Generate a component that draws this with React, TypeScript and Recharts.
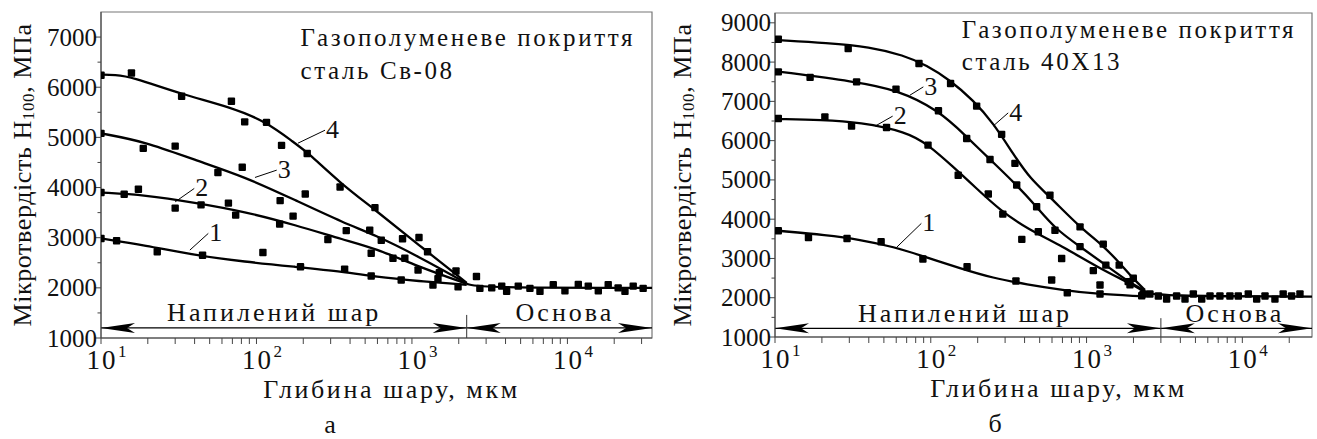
import React from 'react';
import {
  ComposedChart,
  Line,
  Scatter,
  XAxis,
  YAxis,
  ReferenceLine,
  ReferenceDot,
  ReferenceArea,
  Label,
} from 'recharts';

const FONT = '"Liberation Serif", "Times New Roman", serif';

type Pt = [number, number];

// ---------- panel а : steel Св-08 ----------
const leftCurve1 = [[10, 2985], [19.2, 2850], [40, 2650], [84, 2520], [177, 2420], [371, 2320], [578, 2220], [1095, 2135], [2250, 2060]] as Pt[];
const leftCurve2 = [[10, 3900], [19.2, 3850], [40, 3700], [84, 3520], [177, 3255], [371, 2950], [578, 2790], [1095, 2425], [2250, 2080]] as Pt[];
const leftCurve3 = [[10, 5080], [19.2, 4915], [40, 4550], [84, 4215], [177, 3750], [371, 3285], [578, 3055], [1095, 2630], [2250, 2090]] as Pt[];
const leftCurve4 = [[10, 6250], [12.3, 6250], [15.7, 6210], [33, 5860], [69, 5600], [116, 5310], [177, 4880], [212, 4710], [345, 4090], [578, 3560], [1095, 2865], [2250, 2100]] as Pt[];
const leftBase = [[2250, 2080], [2800, 2000], [35000, 2000]] as Pt[];

const leftPts1 = [[10, 2985], [12.6, 2940], [23, 2720], [45, 2650], [110, 2705], [192, 2420], [369, 2370], [547, 2235], [853, 2155], [1365, 2055], [1980, 2020]] as Pt[];
const leftPts2 = [[10, 3900], [14.1, 3865], [17.4, 3965], [30, 3590], [44, 3655], [66, 3690], [73.5, 3450], [141, 3270], [172, 3430], [288, 2965], [547, 2690], [755, 2590], [1095, 2355], [1470, 2180]] as Pt[];
const leftPts3 = [[10, 5080], [18.7, 4780], [30, 4825], [56.5, 4300], [81, 4405], [142, 3740], [206, 3870], [378, 3140], [535, 3150], [635, 2950], [900, 2590], [1500, 2300]] as Pt[];
const leftPts4 = [[10, 6240], [15.7, 6285], [33, 5820], [69, 5720], [84, 5310], [116, 5300], [145, 4840], [212, 4680], [345, 4010], [578, 3600], [870, 2980], [1110, 3005], [1260, 2720], [1920, 2335], [2600, 2225]] as Pt[];
const leftBasePts = [[2735, 1990], [3260, 2000], [3780, 2035], [4065, 1930], [4830, 2035], [5740, 1990], [6660, 1930], [8110, 2065], [9640, 1940], [11750, 2070], [13620, 2035], [15800, 1940], [18300, 2065], [21200, 2000], [23450, 1930], [26500, 2035], [30700, 1990]] as Pt[];

const leftXTicks = [10, 20, 30, 40, 50, 60, 70, 80, 90, 100, 200, 300, 400, 500, 600, 700, 800, 900, 1000, 2000, 3000, 4000, 5000, 6000, 7000, 8000, 9000, 10000, 20000, 30000];
const leftYTicks = [1000, 1500, 2000, 2500, 3000, 3500, 4000, 4500, 5000, 5500, 6000, 6500, 7000];

// ---------- panel б : steel 40Х13 ----------
const rightCurve1 = [[10.5, 3705], [21.5, 3595], [35, 3480], [57.5, 3300], [94, 3030], [154, 2750], [251, 2500], [413, 2340], [708, 2195], [1160, 2095], [2200, 2040]] as Pt[];
const rightCurve2 = [[10.5, 6550], [20, 6530], [35, 6470], [70, 6225], [96, 5900], [139, 5335], [197, 4780], [278, 4230], [413, 3765], [708, 3300], [1160, 2790], [1900, 2365], [2370, 2150]] as Pt[];
const rightCurve3 = [[10.5, 7760], [33, 7500], [60, 7300], [112, 6780], [170, 6100], [240, 5520], [356, 4870], [478, 4315], [627, 3760], [908, 3300], [1330, 2830], [1850, 2410], [2370, 2180]] as Pt[];
const rightCurve4 = [[10.5, 8560], [21.5, 8490], [40.7, 8390], [66.8, 8175], [94, 7920], [133, 7540], [187, 7030], [252, 6450], [339, 5650], [434, 5035], [582, 4570], [908, 3790], [1280, 3325], [1640, 2875], [2030, 2450], [2370, 2200]] as Pt[];
const rightBase = [[2370, 2150], [2900, 2040], [28000, 2030]] as Pt[];

const rightPts1 = [[10.5, 3705], [16.4, 3535], [29, 3510], [48, 3425], [89, 2985], [171, 2790], [352, 2425], [597, 2450], [752, 2125], [1220, 2325], [1220, 2095], [2260, 2050]] as Pt[];
const rightPts2 = [[10.5, 6565], [20.9, 6605], [31, 6370], [52, 6335], [96, 5885], [150, 5120], [234, 4640], [290, 4130], [384, 3485], [490, 3680], [692, 3000], [1105, 2690], [1900, 2330]] as Pt[];
const rightPts3 = [[10.5, 7750], [16.8, 7610], [33.4, 7495], [59.8, 7310], [112, 6760], [170, 6055], [240, 5520], [356, 4870], [478, 4315], [627, 3720], [908, 3300], [1330, 2830], [1850, 2410]] as Pt[];
const rightPts4 = [[10.5, 8580], [29.5, 8345], [84, 7965], [134, 7455], [197, 6880], [285, 6160], [347, 5420], [582, 4610], [908, 3805], [1280, 3365], [1620, 2830], [1995, 2495]] as Pt[];
const rightBasePts = [[2310, 2095], [2550, 2095], [2890, 2045], [3265, 1965], [3785, 2045], [4285, 1965], [4845, 2095], [5485, 1965], [6200, 2045], [7180, 2045], [8320, 2045], [9420, 2045], [10920, 2095], [12360, 1965], [13980, 2045], [16190, 1965], [18290, 2095], [20700, 2045], [23440, 2095]] as Pt[];

const rightXTicks = [10, 20, 30, 40, 50, 60, 70, 80, 90, 100, 200, 300, 400, 500, 600, 700, 800, 900, 1000, 2000, 3000, 4000, 5000, 6000, 7000, 8000, 9000, 10000, 20000];
const rightYTicks = [1000, 1500, 2000, 2500, 3000, 3500, 4000, 4500, 5000, 5500, 6000, 6500, 7000, 7500, 8000, 8500, 9000];

const titleLine1 = 'Газополуменеве покриття';
const leftTitle2 = 'сталь Св-08';
const rightTitle2 = 'сталь 40Х13';

const toXY = (pts: Pt[]) => pts.map(([x, y]) => ({ x, y }));

function XTick(props: any) {
  const { x, y, payload } = props;
  const lg = Math.log10(payload.value);
  const exp = Math.round(lg);
  const decade = Math.abs(lg - exp) < 1e-6;
  return (
    <g>
      <line x1={x} y1={y} x2={x} y2={y + 6} stroke="#444" />
      {decade && (
        <g fontFamily={FONT} fill="#111">
          <text x={x + 1} y={y + 31} textAnchor="middle" fontSize={27} letterSpacing={2}>10</text>
          <text x={x + 17} y={y + 19} fontSize={17}>{exp}</text>
        </g>
      )}
    </g>
  );
}

function YTick(props: any) {
  const { x, y, payload } = props;
  const major = payload.value % 1000 === 0;
  return (
    <g>
      <line x1={x - (major ? 6 : 3.5)} y1={y} x2={x} y2={y} stroke="#444" />
      {major && (
        <text x={x - 4} y={y + 8.5} textAnchor="end" fontFamily={FONT} fontSize={25} fill="#111">
          {payload.value}
        </text>
      )}
    </g>
  );
}

const square = (p: any) => <rect x={p.cx - 3.7} y={p.cy - 3.7} width={7.4} height={7.4} rx={1} fill="#000" />;

function DoubleArrow(props: any) {
  const { x1, y1, x2, y2 } = props;
  const len = 34;
  const half = 5;
  const notch = 8;
  return (
    <g>
      <line x1={x1} y1={y1} x2={x2} y2={y2} stroke="#000" strokeWidth={1.2} />
      <polygon points={`${x1},${y1} ${x1 + len},${y1 - half} ${x1 + len - notch},${y1} ${x1 + len},${y1 + half}`} fill="#000" />
      <polygon points={`${x2},${y2} ${x2 - len},${y2 - half} ${x2 - len + notch},${y2} ${x2 - len},${y2 + half}`} fill="#000" />
    </g>
  );
}

const textAt = (text: string, anchor: string, size: number, spacing: number, dx = 0, dy = 0) =>
  (p: any) => (
    <text x={p.cx + dx} y={p.cy + dy} textAnchor={anchor} fontFamily={FONT} fontSize={size} letterSpacing={spacing} fill="#111">
      {text}
    </text>
  );

interface Leader { from: Pt; to: Pt; text: string }

interface PanelProps {
  offsetLeft: number;
  width: number;
  margin: { top: number; right: number; left: number; bottom: number };
  yAxisWidth: number;
  xAxisHeight: number;
  xDomain: [number, number];
  yDomain: [number, number];
  xTicks: number[];
  yTicks: number[];
  curves: Pt[][];
  points: Pt[][];
  base: Pt[];
  basePoints: Pt[];
  leaders: Leader[];
  titles: { at: Pt; text: string }[];
  divider: number;
  dividerTop: number;
  arrowY: number;
  layerLabel: Pt;
  baseLabel: Pt;
  letter: string;
  letterX: number;
}

function Panel(p: PanelProps) {
  const [x0, x1] = p.xDomain;
  const [y0, y1] = p.yDomain;
  return (
    <div style={{ position: 'absolute', left: p.offsetLeft, top: 0 }}>
      <ComposedChart width={p.width} height={439} margin={p.margin}>
        <XAxis
          dataKey="x"
          type="number"
          scale="log"
          domain={p.xDomain}
          allowDataOverflow
          ticks={p.xTicks}
          interval={0}
          tickLine={false}
          tickSize={0}
          tickMargin={0}
          tick={<XTick />}
          height={p.xAxisHeight}
          axisLine={{ stroke: '#444' }}
        >
          <Label
            content={(lp: any) => {
              const vb = lp.viewBox;
              return (
                <g fontFamily={FONT} fill="#111">
                  <text x={vb.x + vb.width / 2 + 15} y={vb.y + 60} textAnchor="middle" fontSize={26} letterSpacing={2.6}>
                    Глибина шару, мкм
                  </text>
                  <text x={p.letterX} y={vb.y + 95} textAnchor="middle" fontSize={26}>
                    {p.letter}
                  </text>
                </g>
              );
            }}
          />
        </XAxis>
        <YAxis
          dataKey="y"
          type="number"
          domain={p.yDomain}
          allowDataOverflow
          ticks={p.yTicks}
          interval={0}
          tickLine={false}
          tickSize={0}
          tickMargin={0}
          tick={<YTick />}
          width={p.yAxisWidth}
          axisLine={{ stroke: '#444' }}
        >
          <Label
            content={(lp: any) => {
              const vb = lp.viewBox;
              const cx = vb.x + 22;
              const cy = vb.y + vb.height / 2;
              return (
                <text
                  x={cx}
                  y={cy}
                  transform={`rotate(-90, ${cx}, ${cy})`}
                  textAnchor="middle"
                  dominantBaseline="central"
                  fontFamily={FONT}
                  fontSize={26}
                  letterSpacing={0.6}
                  fill="#111"
                >
                  Мікротвердість H<tspan fontSize={17} dy={6}>100</tspan>
                  <tspan dy={-6}>, МПа</tspan>
                </text>
              );
            }}
          />
        </YAxis>

        <ReferenceArea x1={x0} x2={x1} y1={y0} y2={y1} fill="none" stroke="#777" strokeWidth={1.2} ifOverflow="visible" />

        {p.curves.map((c, i) => (
          <Line
            key={`c${i}`}
            data={toXY(c)}
            dataKey="y"
            type="basis"
            stroke="#000"
            strokeWidth={2.3}
            dot={false}
            activeDot={false}
            isAnimationActive={false}
          />
        ))}
        <Line
          data={toXY(p.base)}
          dataKey="y"
          type="basis"
          stroke="#000"
          strokeWidth={2.3}
          dot={false}
          activeDot={false}
          isAnimationActive={false}
        />
        {p.points.map((s, i) => (
          <Scatter key={`s${i}`} data={toXY(s)} shape={square} isAnimationActive={false} />
        ))}
        <Scatter data={toXY(p.basePoints)} shape={square} isAnimationActive={false} />

        <ReferenceLine
          segment={[{ x: x0, y: p.arrowY }, { x: p.divider, y: p.arrowY }]}
          shape={DoubleArrow}
          ifOverflow="visible"
        />
        <ReferenceLine
          segment={[{ x: p.divider, y: p.arrowY }, { x: x1, y: p.arrowY }]}
          shape={DoubleArrow}
          ifOverflow="visible"
        />
        <ReferenceLine
          segment={[{ x: p.divider, y: y0 }, { x: p.divider, y: p.dividerTop }]}
          stroke="#333"
          strokeWidth={1}
          ifOverflow="visible"
        />

        {p.leaders.map((l, i) => (
          <ReferenceLine
            key={`l${i}`}
            segment={[{ x: l.from[0], y: l.from[1] }, { x: l.to[0], y: l.to[1] }]}
            stroke="#000"
            strokeWidth={1}
            ifOverflow="visible"
          />
        ))}
        {p.leaders.map((l, i) => (
          <ReferenceDot key={`t${i}`} x={l.to[0]} y={l.to[1]} r={0} shape={textAt(l.text, 'start', 26, 0, 1, 8)} ifOverflow="visible" />
        ))}

        {p.titles.map((t, i) => (
          <ReferenceDot key={`h${i}`} x={t.at[0]} y={t.at[1]} r={0} shape={textAt(t.text, 'start', 25, 2.6)} ifOverflow="visible" />
        ))}
        <ReferenceDot x={p.layerLabel[0]} y={p.layerLabel[1]} r={0} shape={textAt('Напилений шар', 'middle', 26, 3)} ifOverflow="visible" />
        <ReferenceDot x={p.baseLabel[0]} y={p.baseLabel[1]} r={0} shape={textAt('Основа', 'middle', 26, 3)} ifOverflow="visible" />
      </ComposedChart>
    </div>
  );
}

export default function App() {
  return (
    <div style={{ position: 'absolute', left: 0, top: 0, width: 1317, height: 439, background: '#fff' }}>
      <Panel
        offsetLeft={0}
        width={660}
        margin={{ top: 12, right: 8, left: 0, bottom: 0 }}
        yAxisWidth={101}
        xAxisHeight={101}
        xDomain={[10, 35000]}
        yDomain={[1000, 7500]}
        xTicks={leftXTicks}
        yTicks={leftYTicks}
        curves={[leftCurve1, leftCurve2, leftCurve3, leftCurve4]}
        points={[leftPts1, leftPts2, leftPts3, leftPts4]}
        base={leftBase}
        basePoints={leftBasePts}
        leaders={[
          { from: [185, 4885], to: [276, 5143], text: '4' },
          { from: [97.8, 4201], to: [135, 4347], text: '3' },
          { from: [30, 3715], to: [39.8, 3982], text: '2' },
          { from: [37.3, 2753], to: [49, 3086], text: '1' },
        ]}
        titles={[
          { at: [192, 6817], text: titleLine1 },
          { at: [192, 6159], text: leftTitle2 },
        ]}
        divider={2250}
        dividerTop={1460}
        arrowY={1200}
        layerLabel={[130, 1340]}
        baseLabel={[9640, 1340]}
        letter="а"
        letterX={330}
      />
      <Panel
        offsetLeft={660}
        width={657}
        margin={{ top: 13, right: 5, left: 0, bottom: 0 }}
        yAxisWidth={115}
        xAxisHeight={102}
        xDomain={[10, 28000]}
        yDomain={[1000, 9250]}
        xTicks={rightXTicks}
        yTicks={rightYTicks}
        curves={[rightCurve1, rightCurve2, rightCurve3, rightCurve4]}
        points={[rightPts1, rightPts2, rightPts3, rightPts4]}
        base={rightBase}
        basePoints={rightBasePts}
        leaders={[
          { from: [251, 6369], to: [314, 6707], text: '4' },
          { from: [73.5, 7158], to: [89.6, 7369], text: '3' },
          { from: [43.9, 6369], to: [56.9, 6623], text: '2' },
          { from: [60.3, 3282], to: [87, 3893], text: '1' },
        ]}
        titles={[
          { at: [158, 8608], text: titleLine1 },
          { at: [158, 7794], text: rightTitle2 },
        ]}
        divider={3000}
        dividerTop={1480}
        arrowY={1220}
        layerLabel={[166, 1390]}
        baseLabel={[8960, 1390]}
        letter="б"
        letterX={335}
      />
    </div>
  );
}
